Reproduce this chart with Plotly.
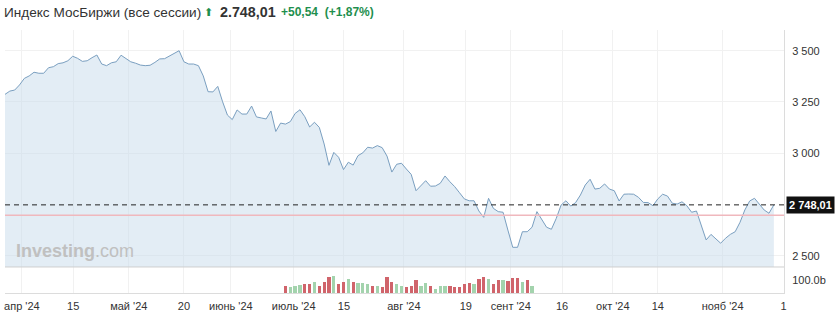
import plotly.graph_objects as go

# ---- data ----
PRICE = [
    3287, 3303, 3308, 3333, 3365, 3377, 3395, 3390, 3390, 3417,
    3422, 3437, 3441, 3451, 3473, 3463, 3448, 3451, 3466, 3479,
    3435, 3427, 3441, 3446, 3478, 3461, 3446, 3439, 3430, 3427,
    3429, 3443, 3460, 3461, 3473, 3487, 3500, 3446, 3435, 3435,
    3427, 3377, 3300, 3299, 3326, 3251, 3186, 3164, 3211, 3191,
    3191, 3230, 3177, 3172, 3167, 3206, 3106, 3147, 3142, 3154,
    3194, 3212, 3178, 3128, 3151, 3126, 3045, 2941, 3004, 2980,
    2920, 2956, 2942, 2988, 3002, 3029, 3025, 3037, 3027, 2986,
    2908, 2946, 2951, 2923, 2897, 2817, 2840, 2866, 2839, 2840,
    2853, 2889, 2861, 2837, 2807, 2777, 2768, 2768, 2718, 2687,
    2780, 2731, 2715, 2712, 2625, 2541, 2541, 2617, 2617, 2639,
    2715, 2678, 2639, 2629, 2682, 2747, 2768, 2742, 2759, 2796,
    2845, 2873, 2825, 2829, 2850, 2825, 2817, 2767, 2800, 2801,
    2800, 2785, 2760, 2759, 2744, 2777, 2800, 2791, 2756, 2752,
    2763, 2744, 2712, 2718, 2645, 2577, 2604, 2580, 2561, 2585,
    2604, 2617, 2663, 2723, 2767, 2780, 2751, 2723, 2707, 2748.01,
]
LAST_PRICE = 2748.01
PREV_CLOSE = 2697.47

VOL_START = 58  # session index of first volume bar
VOLUME = [
    55, 50, 55, 60, 74, 68, 84, 58, 89, 126,
    134, 74, 89, 113, 84, 79, 79, 71, 55, 58,
    45, 126, 84, 74, 55, 45, 53, 100, 53, 81,
    55, 32, 53, 53, 55, 45, 45, 74, 79, 74,
    108, 126, 108, 74, 100, 100, 95, 118, 118, 89,
    100, 55,
]
VOL_UP = [
    0, 1, 1, 1, 0, 0, 1, 0, 0, 0,
    1, 0, 0, 1, 0, 1, 1, 1, 0, 1,
    0, 0, 0, 1, 1, 0, 0, 0, 1, 1,
    0, 1, 1, 1, 0, 0, 0, 0, 0, 1,
    0, 0, 1, 0, 0, 1, 0, 0, 0, 1,
    0, 1,
]

X_TICK_POS = [3.5, 14.1, 25.6, 37.0, 46.7, 59.7, 70.1, 82.5, 95.3, 104.6,
              115.2, 125.7, 135.0, 148.4, 161.0]
X_TICK_LABELS = ["апр '24", "15", "май '24", "20", "июнь '24", "июль '24", "15",
                 "авг '24", "19", "сент '24", "16", "окт '24", "14", "нояб '24", "1"]
Y_TICKS = [2500, 3000, 3250, 3500]
Y_TICK_LABELS = ["2 500", "3 000", "3 250", "3 500"]

FONT = "Liberation Sans, Arial, sans-serif"

sessions = list(range(len(PRICE)))
vol_x = [VOL_START + i for i in range(len(VOLUME))]
vol_colors = ["#a3d3ad" if u else "#d0646b" for u in VOL_UP]

fig = go.Figure()
fig.add_trace(go.Scatter(
    x=sessions, y=PRICE, mode="lines",
    line=dict(color="#7a9fc0", width=1),
    fill="tozeroy", fillcolor="rgba(200,220,236,0.5)",
    hoverinfo="skip", xaxis="x", yaxis="y",
))
fig.add_trace(go.Bar(
    x=vol_x, y=VOLUME, marker=dict(color=vol_colors, line=dict(width=0)),
    width=0.68, xaxis="x", yaxis="y2", hoverinfo="skip",
))

# previous close line and last-price dashed line
fig.add_hline(y=PREV_CLOSE, line=dict(color="#f0b8bd", width=1.5), yref="y")
fig.add_hline(y=LAST_PRICE, line=dict(color="#222", width=1, dash="5px,4px"), yref="y")

fig.update_layout(
    width=836, height=313,
    margin=dict(l=5, r=52, t=30, b=20),
    paper_bgcolor="white", plot_bgcolor="white",
    showlegend=False,
    bargap=0,
    font=dict(family=FONT, size=11, color="#333"),
    xaxis=dict(
        anchor="y2", range=[0, 161.1], automargin=False,
        tickmode="array", tickvals=X_TICK_POS, ticktext=X_TICK_LABELS,
        showgrid=True, gridcolor="#f1f1f1", gridwidth=1,
        zeroline=False, showline=True, linecolor="#dcdcdc", linewidth=1,
        ticks="", ticklabelstandoff=3,
        tickfont=dict(family=FONT, size=11, color="#333"),
    ),
    yaxis=dict(
        domain=[0.0989, 1], range=[2445, 3601], side="right", automargin=False,
        tickmode="array", tickvals=Y_TICKS, ticktext=Y_TICK_LABELS,
        showgrid=True, gridcolor="#f1f1f1", zeroline=False,
        showline=True, linecolor="#dcdcdc", ticks="", ticklabelstandoff=5,
        tickfont=dict(family=FONT, size=11, color="#333"),
    ),
    yaxis2=dict(
        domain=[0, 0.0989], range=[0, 205], side="right", automargin=False,
        tickmode="array", tickvals=[100], ticktext=["100.0b"],
        showgrid=False, zeroline=False,
        showline=True, linecolor="#dcdcdc", ticks="", ticklabelstandoff=5,
        tickfont=dict(family=FONT, size=11, color="#333"),
    ),
)

# pane separator
fig.add_shape(type="line", xref="paper", yref="paper", x0=0, x1=1, y0=0.0989, y1=0.0989,
              line=dict(color="#cfcfcf", width=1))

# header text
fig.add_annotation(xref="paper", yref="paper", x=-0.004, y=1.068, xanchor="left", yanchor="middle",
                   text="Индекс МосБиржи (все сессии)", showarrow=False,
                   font=dict(family=FONT, size=13.6, color="#333"))
fig.add_annotation(xref="paper", yref="paper", x=0.253, y=1.068, xanchor="left", yanchor="middle",
                   text="⬆", showarrow=False,
                   font=dict(family="DejaVu Sans", size=11, color="#1f8f4e"))
fig.add_annotation(xref="paper", yref="paper", x=0.274, y=1.068, xanchor="left", yanchor="middle",
                   text="<b>2.748,01</b>", showarrow=False,
                   font=dict(family=FONT, size=14.3, color="#333"))
fig.add_annotation(xref="paper", yref="paper", x=0.352, y=1.068, xanchor="left", yanchor="middle",
                   text="<b>+50,54  (+1,87%)</b>", showarrow=False,
                   font=dict(family=FONT, size=12, color="#1f8f4e"))

# last price label
fig.add_annotation(xref="paper", yref="y", x=1.002, y=LAST_PRICE, xanchor="left", yanchor="middle",
                   text="<b>2 748,01</b>", showarrow=False, bgcolor="#111", borderpad=2,
                   font=dict(family=FONT, size=11, color="white"))

# watermark
fig.add_annotation(xref="paper", yref="paper", x=0.012, y=0.16, xanchor="left", yanchor="middle",
                   text="<b>Investing</b>.com", showarrow=False,
                   font=dict(family=FONT, size=18, color="#c0c0c0"))

fig.write_html("out.html")
